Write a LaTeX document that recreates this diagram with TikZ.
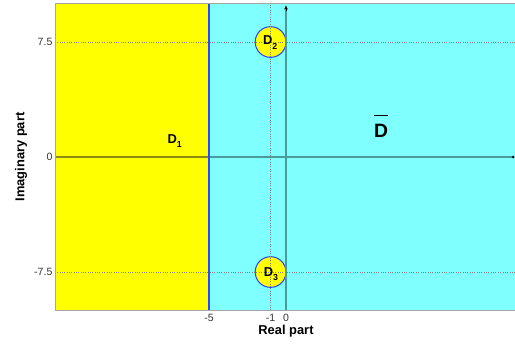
\documentclass[tikz,border=0pt]{standalone}
\usepackage{fontspec}
\setmainfont{Liberation Sans}
\usetikzlibrary{arrows.meta}
\definecolor{AmarilloReg}{RGB}{255,255,0}
\definecolor{CianReg}{RGB}{128,255,255}
\definecolor{AzulBorde}{RGB}{45,70,255}
\definecolor{OlivaEje}{RGB}{140,140,20}
\definecolor{VerdeEje}{RGB}{75,155,155}
\newcommand{\Dsub}[1]{D\raisebox{-0.38em}{\fontsize{7.5}{7.5}\selectfont #1}}
\begin{document}
\begin{tikzpicture}[>=Latex,x=0.462cm,y=0.46cm,
  tick/.style={font=\fontsize{9}{9}\selectfont,inner sep=2pt,text=black!80},
  axlabel/.style={font=\bfseries\fontsize{11}{11}\selectfont},
  region/.style={font=\bfseries\fontsize{11}{11}\selectfont,inner sep=0pt},
  gridline/.style={black!50,line width=0.5pt,dash pattern=on 0.8pt off 1.2pt},
  axisline/.style={line width=0.9pt}]
  \useasboundingbox (-18.57,-12.26) rectangle (14.87,10.24);
  \coordinate (SW) at (-15,-10);
  \coordinate (NE) at (15,10);
  \fill[AmarilloReg] (SW) rectangle (-5,10);
  \fill[CianReg] (-5,-10) rectangle (NE);
  \filldraw[fill=AmarilloReg,draw=AzulBorde,line width=0.9pt] (-1,7.5) circle[radius=1];
  \filldraw[fill=AmarilloReg,draw=AzulBorde,line width=0.9pt] (-1,-7.5) circle[radius=1];
  \draw[gridline] (-15,7.5) -- (15,7.5);
  \draw[gridline] (-15,-7.5) -- (15,-7.5);
  \draw[gridline] (-1,-10) -- (-1,10);
  \draw[axisline,OlivaEje] (-15,0) -- (-5,0);
  \draw[axisline,VerdeEje] (-5,0) -- (14.75,0);
  \draw[AzulBorde,line width=1pt] (-5,-10) -- (-5,10);
  \fill (14.75,0) circle (1.2pt);
  \draw[axisline,VerdeEje] (0,-10) -- (0,9.6);
  \draw[-{Latex[length=3.5pt,width=3pt]},black] (0,9.5) -- (0,9.9);
  \draw[gray!70,line width=0.7pt] (SW) rectangle (NE);
  \node[tick,left] (y75) at (-15,7.5) {7.5};
  \node[tick,left] (y0) at (-15,0) {0};
  \node[tick,left] (ym75) at (-15,-7.5) {-7.5};
  \node[tick,below] (xm5) at (-5,-10.1) {-5};
  \node[tick,below] (xm1) at (-1,-10.1) {-1};
  \node[tick,below] (x0) at (0,-10.1) {0};
  \node[axlabel] (xlab) at (0,-11.35) {Real part};
  \node[axlabel,rotate=90] (ylab) at (-17.2,0) {Imaginary part};
  \node[region,anchor=base west] (D1) at (-7.7,0.91) {\Dsub{1}};
  \node[region,anchor=base west] (D2) at (-1.5,7.31) {\Dsub{2}};
  \node[region,anchor=base west] (D3) at (-1.45,-7.76) {\Dsub{3}};
  \node[region,anchor=base,font=\bfseries\fontsize{16.5}{16.5}\selectfont] (Dbar) at (6.17,1.30) {$\overline{\vphantom{\rule{0pt}{17pt}}\mbox{D}}$};
\end{tikzpicture}
\end{document}
